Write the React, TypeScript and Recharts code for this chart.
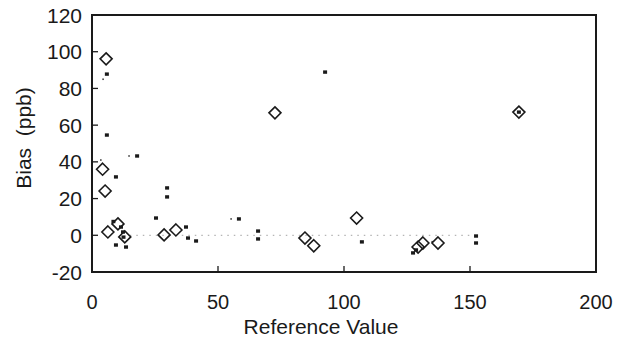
import React from "react";
import {
  ScatterChart,
  Scatter,
  XAxis,
  YAxis,
  ReferenceArea,
  ReferenceLine,
} from "recharts";

// Open diamonds
const diamondX = [5.6, 72.6, 4.2, 5.2, 105, 6.3, 10.3, 13, 28.6, 33.3, 84.5, 88, 137.3, 129.4, 131.3, 169.4];
const diamondY = [96.1, 66.7, 36, 24.1, 9.4, 1.8, 6.2, -0.9, 0.2, 2.9, -1.5, -5.7, -4.2, -6.4, -4.2, 67.1];

// Small filled squares
const squareX = [5.9, 5.9, 9.5, 17.9, 29.8, 29.8, 25.4, 37.3, 38.1, 41.3, 58.3, 65.9, 65.9, 92.5, 107.1, 127.4, 128.6, 152.4, 152.4, 169.4, 9.5, 13.5, 12.3, 12.5, 8.5, 11.5];
const squareY = [87.8, 54.6, 31.8, 43.2, 25.8, 20.9, 9.4, 4.5, -1.5, -3.1, 8.9, 2.3, -2, 88.9, -3.6, -9.6, -8, -0.4, -4.2, 67.1, -5.3, -6.4, 1.8, -1, 7.5, 4.5];

// Tiny specks
const dotX = [4.4, 14.7, 55.2, 135, 3.5];
const dotY = [85, 43.2, 8.9, -3.5, 41];

const xTicks = [0, 50, 100, 150, 200];
const yTicks = [-20, 0, 20, 40, 60, 80, 100, 120];

const diamonds = diamondX.map((x, i) => ({ x, y: diamondY[i] }));
const squares = squareX.map((x, i) => ({ x, y: squareY[i] }));
const dots = dotX.map((x, i) => ({ x, y: dotY[i] }));

const FONT = "'Liberation Sans', Arial, sans-serif";
const INK = "#1a1a1a";
const FS = 21;
const XFS = 20;

const DiamondShape = (p: any) => {
  const { cx, cy } = p;
  const r = 6;
  return (
    <polygon
      points={`${cx},${cy - r} ${cx + r},${cy} ${cx},${cy + r} ${cx - r},${cy}`}
      fill="none"
      stroke={INK}
      strokeWidth={1.6}
    />
  );
};

const SquareShape = (p: any) => {
  const { cx, cy } = p;
  return <rect x={cx - 2} y={cy - 1.7} width={4} height={3.4} fill={INK} />;
};

const DotShape = (p: any) => {
  const { cx, cy } = p;
  return <rect x={cx - 0.8} y={cy - 0.8} width={1.6} height={1.6} fill="#444" />;
};

const YTick = (p: any) => {
  const { x, y, payload } = p;
  return (
    <g>
      <text x={x} y={y} dy={7.5} textAnchor="end" fontFamily={FONT} fontSize={FS} fill={INK}>
        {payload.value}
      </text>
      {payload.value !== -20 && payload.value !== 120 && (
        <line x1={x + 10} x2={x + 16} y1={y} y2={y} stroke={INK} strokeWidth={1.3} />
      )}
    </g>
  );
};

const XTick = (p: any) => {
  const { x, y, payload } = p;
  return (
    <g>
      <text x={x} y={y} dy={29} textAnchor="middle" fontFamily={FONT} fontSize={XFS} fill={INK}>
        {payload.value}
      </text>
      {payload.value !== 0 && payload.value !== 200 && (
        <line x1={x} x2={x} y1={y - 8} y2={y - 14} stroke={INK} strokeWidth={1.3} />
      )}
    </g>
  );
};

export default function App() {
  return (
    <div style={{ position: "absolute", left: 0, top: 0, background: "#fff" }}>
      <ScatterChart width={619} height={343} margin={{ top: 15, right: 23, bottom: 0, left: 0 }}>
        <XAxis
          type="number"
          dataKey="x"
          domain={[0, 200]}
          ticks={xTicks}
          height={71}
          axisLine={false}
          tickLine={false}
          tickSize={0}
          tickMargin={8}
          tick={<XTick />}
          interval={0}
          label={{
            content: () => (
              <text x={321} y={334} textAnchor="middle" fontFamily={FONT} fontSize={FS} fill={INK}>
                Reference Value
              </text>
            ),
          }}
        />
        <YAxis
          type="number"
          dataKey="y"
          domain={[-20, 120]}
          ticks={yTicks}
          width={92}
          axisLine={false}
          tickLine={false}
          tickSize={0}
          tickMargin={10}
          tick={<YTick />}
          interval={0}
          label={{
            content: () => (
              <text
                x={31}
                y={138}
                textAnchor="middle"
                fontFamily={FONT}
                fontSize={FS}
                fill={INK}
                transform="rotate(-90 31 138)"
              >
                {"Bias\u00a0\u00a0(ppb)"}
              </text>
            ),
          }}
        />
        <ReferenceLine
          segment={[
            { x: 15, y: 0 },
            { x: 150, y: 0 },
          ]}
          stroke="#b5b5b5"
          strokeDasharray="1.5 5"
          strokeWidth={1.2}
        />
        <ReferenceArea
          x1={0}
          x2={200}
          y1={-20}
          y2={120}
          fill="none"
          fillOpacity={0}
          stroke={INK}
          strokeWidth={2}
        />
        <Scatter data={dots} shape={<DotShape />} isAnimationActive={false} />
        <Scatter data={squares} shape={<SquareShape />} isAnimationActive={false} />
        <Scatter data={diamonds} shape={<DiamondShape />} isAnimationActive={false} />
      </ScatterChart>
    </div>
  );
}
